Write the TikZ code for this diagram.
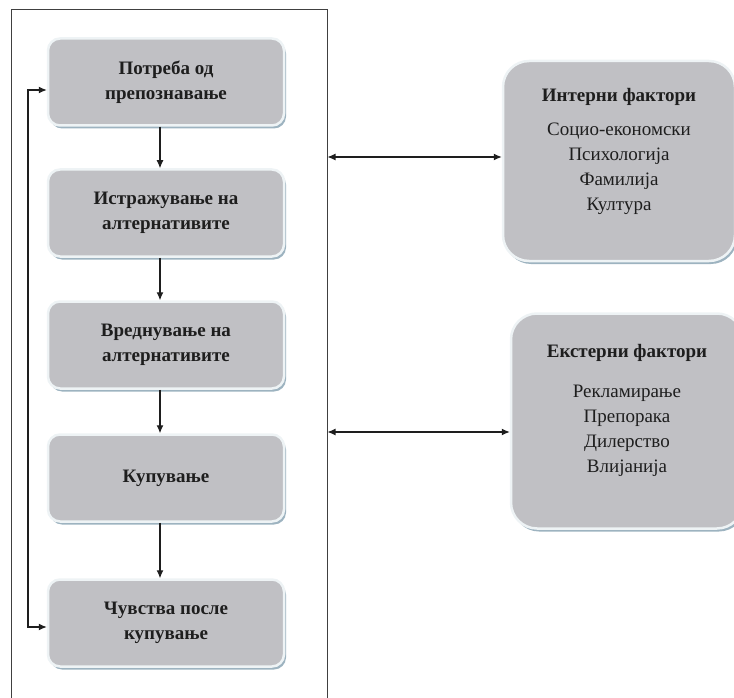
\documentclass[tikz,border=0pt]{standalone}
\usepackage{fontspec}
\setmainfont{Liberation Serif}
\usetikzlibrary{arrows.meta,shadows}
\definecolor{boxfill}{HTML}{C0C0C4}
\definecolor{boxrim}{HTML}{EEF3F5}
\definecolor{boxshade}{HTML}{9DB3C0}
\definecolor{ink}{HTML}{1E1E1E}
\definecolor{framegray}{HTML}{404040}
\begin{document}
\begin{tikzpicture}[x=1pt,y=-1pt,
  basebox/.style={rectangle, fill=boxfill, draw=boxrim, line width=2.5pt,
    general shadow={fill=boxshade, shadow xshift=2pt, shadow yshift=-3pt}},
  stagebox/.style={basebox, rounded corners=12pt, minimum width=236pt,
    minimum height=87pt, align=center, text=ink,
    font=\fontsize{19}{25}\selectfont\bfseries},
  factorbox/.style={basebox, rounded corners=26pt, minimum width=232pt},
  factortext/.style={anchor=north, align=center, text=ink, inner sep=0pt,
    font=\fontsize{19}{25}\selectfont},
  tip/.style={Latex[length=8pt,width=7pt]},
  flow/.style={draw=ink, line width=1.1pt, -{Latex[length=8pt,width=7pt]}},
  link/.style={draw=ink, line width=1.1pt,
    {Latex[length=8pt,width=7pt]}-{Latex[length=8pt,width=7pt]}}]
  \useasboundingbox (0,0) rectangle (734,698);

  % outer frame around the decision stages
  \node[draw=framegray, line width=1pt, minimum width=316pt, minimum height=720pt,
    inner sep=0pt] (frame) at (169,370) {};

  % decision stages
  \node[stagebox] (s1) at (166,82)  {Потреба од\\препознавање};
  \node[stagebox] (s2) at (166,213) {Истражување на\\алтернативите};
  \node[stagebox] (s3) at (166,345) {Вреднување на\\алтернативите};
  \node[stagebox] (s4) at (166,478) {Купување};
  \node[stagebox] (s5) at (166,623) {Чувства после\\купување};

  \draw[flow] ([xshift=-6pt]s1.south) -- ([xshift=-6pt]s2.north);
  \draw[flow] ([xshift=-6pt]s2.south) -- ([xshift=-6pt]s3.north);
  \draw[flow] ([xshift=-6pt]s3.south) -- ([xshift=-6pt]s4.north);
  \draw[flow] ([xshift=-6pt]s4.south) -- ([xshift=-6pt]s5.north);

  % feedback loop between first and last stage
  \draw[link] (s1.west |- 0,90) -- (28,90) -- (28,627) -- (s5.west |- 0,627);

  % influencing factors
  \node[factorbox, minimum height=200pt] (int) at (619,161) {};
  \node[factortext] (inttext) at (619,88)
    {\textbf{Интерни фактори}\\[9pt]Социо-економски\\Психологија\\Фамилија\\Култура};

  \node[factorbox, minimum height=215pt] (ext) at (627,421) {};
  \node[factortext] (exttext) at (627,344)
    {\textbf{Екстерни фактори}\\[15pt]Рекламирање\\Препорака\\Дилерство\\Влијанија};

  \draw[link] (frame.east |- 0,157) -- (int.west |- 0,157);
  \draw[link] (frame.east |- 0,432) -- (ext.west |- 0,432);
\end{tikzpicture}
\end{document}
